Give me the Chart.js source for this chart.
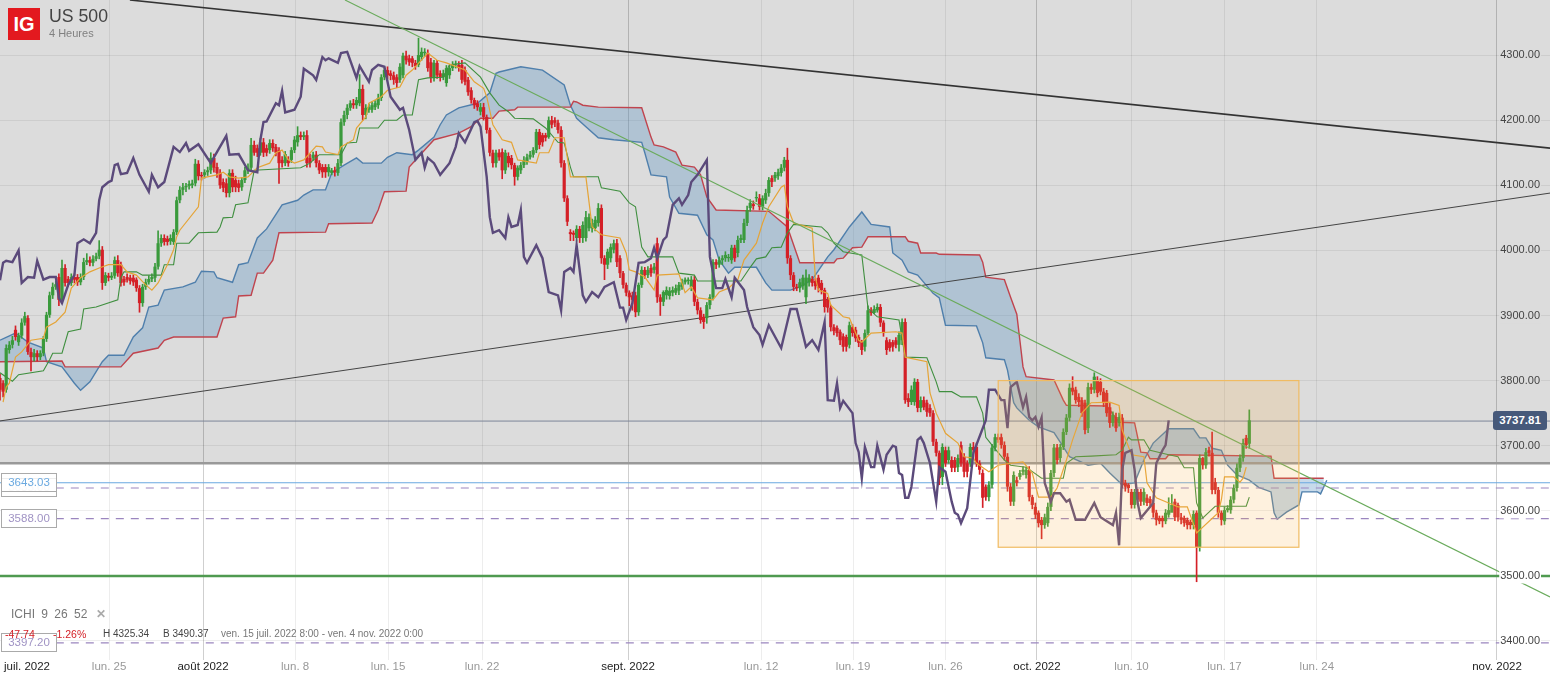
<!DOCTYPE html>
<html>
<head>
<meta charset="utf-8">
<style>
  body { margin: 0; background: #fff; font-family: "Liberation Sans", Arial, sans-serif; }
  #wrap { position: relative; width: 1550px; height: 677px; overflow: hidden; }
  canvas { position: absolute; left: 0; top: 0; }
  .t { position: absolute; white-space: nowrap; }
  .tag { position: absolute; left: 1px; width: 54px; height: 17px; line-height: 17px; border: 1px solid #aaa; background: #fff; text-align: center; font-size: 11.5px; color: #a093c4; }
</style>
</head>
<body>
<div id="wrap">
  <canvas id="c" width="1550" height="677"></canvas>
  <div class="t" style="left:8px;top:8px;width:32px;height:32px;line-height:32px;background:#e3191f;color:#fff;font-weight:bold;font-size:20px;text-align:center">IG</div>
  <div class="t" style="left:49px;top:6px;font-size:17.7px;color:#444">US 500</div>
  <div class="t" style="left:49px;top:27px;font-size:11px;color:#808080">4 Heures</div>
  <div class="tag" style="top:478px;color:#ddd">3635.00</div>
  <div class="tag" style="top:473px;color:#6aa9e0;background:rgba(255,255,255,.8)">3643.03</div>
  <div class="tag" style="top:509px">3588.00</div>
  <div class="tag" style="top:633px">3397.20</div>
  <div class="t" style="left:11px;top:607px;font-size:12px;color:#777;word-spacing:3px">ICHI 9 26 52 <span style="color:#aaa;font-weight:bold;margin-left:2px">✕</span></div>
  <div class="t" style="left:5px;top:628px;font-size:10.5px;color:#d42027">-47.74</div>
  <div class="t" style="left:53px;top:628px;font-size:10.5px;color:#d42027">-1.26%</div>
  <div class="t" style="left:103px;top:628px;font-size:10px;color:#444">H 4325.34</div>
  <div class="t" style="left:163px;top:628px;font-size:10px;color:#444">B 3490.37</div>
  <div class="t" style="left:221px;top:628px;font-size:10px;color:#777">ven. 15 juil. 2022 8:00 - ven. 4 nov. 2022 0:00</div>
  <div class="t" style="left:1493px;top:411px;width:54px;height:19px;line-height:19px;background:#46597a;border-radius:3px;color:#fff;font-weight:bold;font-size:11.5px;text-align:center">3737.81</div>
</div>
<script src="https://cdn.jsdelivr.net/npm/chart.js@4"></script>
<script>
// 4h candles, one bar per slot
const opens = [
3804,3796,3786,3847,3855,3878,3859,3869,3889,3896,
3844,3836,3842,3836,3842,3864,3901,3931,3944,3959,
3924,3973,3956,3950,3959,3959,3951,3959,3982,3985,
3981,3987,3991,4001,3950,3961,3958,3961,3985,3978,
3956,3959,3958,3958,3955,3942,3919,3944,3951,3956,
3958,3975,4011,4019,4018,4014,4013,4028,4077,4093,
4097,4099,4100,4103,4133,4116,4116,4120,4123,4142,
4128,4119,4105,4103,4088,4119,4108,4103,4097,4108,
4123,4127,4162,4157,4150,4166,4157,4154,4165,4159,
4154,4139,4134,4139,4139,4154,4166,4177,4174,4177,
4142,4142,4147,4134,4128,4128,4120,4119,4123,4119,
4134,4197,4208,4219,4226,4223,4226,4248,4208,4216,
4216,4220,4223,4234,4266,4277,4272,4269,4266,4262,
4269,4299,4295,4295,4288,4285,4297,4303,4303,4289,
4265,4288,4272,4266,4257,4269,4280,4285,4285,4285,
4277,4262,4246,4231,4226,4213,4220,4205,4185,4150,
4134,4150,4151,4123,4145,4142,4131,4113,4123,4131,
4136,4143,4147,4154,4182,4177,4177,4174,4200,4200,
4196,4185,4134,4080,4028,4027,4019,4033,4019,4019,
4034,4034,4034,4042,4065,3988,3978,3988,4001,4011,
3988,3965,3947,3935,3931,3931,3905,3947,3970,3962,
3973,3970,4011,3928,3921,3931,3930,3935,3935,3938,
3944,3951,3953,3944,3955,3921,3908,3898,3896,3916,
3928,3982,3978,3985,3988,3988,3985,4004,3996,4016,
4016,4042,4065,4071,4080,4080,4067,4077,4088,4111,
4111,4114,4119,4127,4139,3988,3962,3944,3942,3945,
3928,3951,3956,3953,3958,3950,3939,3924,3912,3882,
3881,3875,3868,3867,3855,3882,3878,3867,3859,3852,
3873,3908,3904,3908,3913,3889,3862,3859,3859,3862,
3855,3862,3890,3773,3767,3767,3798,3758,3770,3766,
3758,3750,3706,3689,3652,3693,3678,3678,3678,3667,
3701,3683,3673,3673,3698,3698,3673,3658,3637,3621,
3640,3697,3713,3713,3701,3683,3637,3614,3647,3652,
3660,3655,3663,3621,3606,3597,3586,3578,3581,3606,
3658,3697,3681,3698,3721,3743,3789,3786,3775,3770,
3766,3727,3790,3786,3801,3798,3783,3781,3759,3735,
3744,3735,3743,3643,3640,3629,3609,3629,3629,3614,
3620,3618,3612,3597,3589,3589,3584,3594,3597,3614,
3609,3590,3589,3586,3583,3578,3597,3544,3681,3670,
3693,3689,3644,3632,3597,3584,3601,3601,3617,3635,
3666,3681,3712,3703];
const closes = [
3786,3783,3850,3855,3862,3867,3869,3889,3899,3844,
3836,3842,3836,3842,3864,3901,3931,3944,3948,3924,
3973,3950,3950,3959,3955,3951,3959,3982,3985,3981,
3987,3991,4001,3950,3962,3958,3961,3985,3965,3950,
3951,3955,3953,3951,3942,3919,3944,3951,3956,3959,
3975,4011,4019,4013,4013,4019,4028,4077,4093,4097,
4099,4102,4103,4133,4114,4114,4120,4123,4142,4127,
4119,4100,4096,4088,4119,4097,4097,4096,4108,4123,
4127,4162,4150,4150,4166,4150,4150,4165,4157,4150,
4134,4134,4148,4134,4154,4170,4177,4174,4177,4134,
4134,4147,4134,4123,4120,4120,4128,4123,4120,4134,
4197,4208,4219,4226,4223,4231,4248,4208,4219,4220,
4223,4226,4234,4266,4277,4269,4268,4262,4257,4282,
4299,4292,4289,4288,4283,4300,4305,4305,4280,4265,
4288,4269,4266,4272,4280,4280,4285,4286,4280,4262,
4259,4243,4231,4223,4220,4220,4205,4185,4150,4134,
4150,4143,4123,4150,4134,4131,4113,4127,4131,4139,
4143,4147,4154,4182,4162,4166,4173,4200,4193,4196,
4185,4134,4080,4044,4025,4024,4033,4019,4039,4051,
4051,4042,4047,4065,3988,3978,3998,4005,4011,3982,
3965,3947,3935,3928,3924,3905,3947,3970,3962,3970,
3965,3975,3928,3921,3936,3939,3938,3939,3942,3947,
3951,3955,3955,3955,3921,3908,3893,3890,3916,3928,
3982,3978,3985,3988,3993,3990,4004,3988,4016,4019,
4042,4062,4073,4068,4082,4067,4080,4088,4108,4105,
4116,4120,4127,4139,3988,3962,3944,3942,3951,3958,
3958,3958,3950,3945,3942,3939,3913,3912,3882,3876,
3873,3862,3852,3852,3885,3873,3865,3858,3847,3873,
3908,3904,3910,3913,3889,3873,3847,3850,3852,3855,
3870,3890,3770,3767,3786,3798,3758,3770,3759,3752,
3750,3706,3689,3650,3698,3673,3693,3666,3666,3681,
3673,3660,3660,3698,3693,3673,3663,3620,3621,3640,
3697,3713,3709,3701,3683,3637,3614,3655,3643,3658,
3663,3663,3621,3609,3594,3581,3578,3590,3606,3658,
3697,3678,3698,3721,3743,3789,3783,3770,3767,3750,
3724,3790,3786,3806,3781,3783,3766,3750,3735,3747,
3727,3744,3640,3637,3635,3609,3629,3617,3614,3629,
3612,3612,3597,3586,3584,3584,3597,3601,3609,3590,
3590,3586,3581,3578,3578,3595,3544,3681,3670,3690,
3689,3632,3632,3597,3586,3601,3604,3617,3635,3666,
3681,3704,3701,3739];
const highs = [
3810,3800,3855,3860,3868,3884,3873,3895,3905,3900,
3850,3848,3846,3846,3868,3905,3936,3950,3953,3964,
3985,3978,3960,3964,3964,3963,3964,3988,3995,3990,
3992,3996,4015,4006,3966,3965,3966,3990,3992,3982,
3960,3964,3962,3962,3958,3946,3948,3956,3961,3964,
3980,4030,4024,4024,4022,4024,4032,4082,4098,4103,
4103,4107,4108,4140,4138,4120,4124,4128,4150,4148,
4134,4124,4110,4110,4124,4124,4114,4108,4112,4128,
4133,4172,4168,4162,4172,4172,4162,4170,4170,4163,
4158,4144,4152,4144,4158,4175,4190,4182,4182,4184,
4148,4151,4152,4138,4132,4132,4132,4126,4128,4140,
4202,4214,4224,4230,4232,4235,4270,4254,4224,4225,
4228,4230,4240,4270,4282,4282,4276,4274,4270,4287,
4303,4306,4300,4298,4292,4326,4311,4310,4308,4295,
4292,4292,4276,4277,4284,4284,4290,4291,4290,4292,
4282,4266,4250,4234,4230,4226,4226,4208,4188,4154,
4154,4155,4156,4154,4150,4146,4134,4130,4135,4144,
4148,4152,4158,4186,4186,4180,4180,4205,4206,4204,
4200,4190,4138,4084,4032,4030,4038,4037,4044,4060,
4056,4048,4052,4072,4070,3992,4002,4010,4016,4017,
3992,3968,3950,3938,3936,3936,3950,3975,3974,3975,
3978,3980,4019,3932,3938,3944,3943,3944,3947,3951,
3956,3958,3958,3960,3960,3925,3912,3902,3920,3932,
3986,3986,3990,3992,3998,3994,4008,4008,4022,4024,
4048,4068,4078,4076,4090,4086,4084,4094,4112,4115,
4120,4125,4132,4143,4157,3992,3966,3948,3956,3962,
3970,3963,3960,3957,3962,3954,3942,3928,3916,3886,
3884,3878,3872,3870,3890,3886,3882,3870,3862,3878,
3915,3912,3915,3918,3917,3892,3866,3863,3862,3866,
3875,3895,3895,3780,3792,3803,3802,3775,3775,3770,
3763,3754,3710,3692,3703,3698,3698,3683,3682,3686,
3706,3688,3677,3703,3705,3704,3677,3663,3640,3645,
3702,3718,3718,3718,3706,3688,3642,3660,3652,3662,
3668,3667,3668,3624,3612,3600,3590,3595,3612,3662,
3702,3702,3702,3726,3748,3795,3806,3790,3780,3774,
3770,3796,3795,3812,3806,3803,3788,3785,3765,3752,
3750,3750,3748,3647,3642,3633,3633,3633,3633,3634,
3625,3622,3616,3601,3592,3592,3602,3620,3625,3618,
3612,3596,3592,3589,3586,3600,3600,3686,3682,3696,
3698,3721,3650,3636,3600,3606,3608,3622,3640,3672,
3686,3710,3716,3755];
const lows = [
3770,3775,3782,3842,3850,3862,3854,3865,3885,3840,
3815,3830,3830,3832,3838,3860,3897,3926,3940,3915,
3918,3945,3945,3946,3950,3946,3947,3955,3978,3976,
3976,3984,3987,3940,3946,3953,3955,3957,3960,3945,
3946,3951,3948,3946,3937,3905,3914,3940,3948,3952,
3952,3971,4006,4008,4008,4009,4009,4024,4073,4085,
4090,4094,4096,4099,4108,4108,4111,4115,4118,4120,
4112,4095,4090,4082,4082,4090,4090,4090,4092,4104,
4118,4122,4146,4144,4146,4144,4145,4149,4152,4145,
4103,4128,4130,4129,4135,4150,4160,4170,4170,4128,
4128,4138,4128,4118,4112,4112,4114,4116,4114,4115,
4130,4192,4202,4215,4218,4218,4222,4200,4202,4212,
4212,4216,4218,4230,4262,4264,4262,4255,4250,4258,
4265,4286,4284,4282,4278,4282,4292,4298,4275,4258,
4260,4264,4260,4262,4252,4264,4276,4280,4275,4257,
4254,4238,4226,4218,4215,4208,4200,4180,4145,4128,
4128,4138,4110,4118,4128,4125,4100,4108,4118,4127,
4132,4140,4143,4150,4156,4160,4168,4172,4188,4190,
4180,4128,4075,4038,4015,4015,4014,4012,4012,4014,
4030,4028,4030,4037,3980,3955,3972,3982,3996,3975,
3958,3942,3930,3915,3908,3898,3900,3943,3957,3958,
3960,3965,3920,3900,3915,3925,3925,3930,3932,3932,
3940,3948,3948,3938,3915,3902,3888,3880,3888,3910,
3924,3972,3974,3978,3983,3983,3980,3983,3990,4012,
4012,4038,4060,4063,4075,4062,4062,4072,4083,4098,
4106,4109,4114,4122,3980,3955,3938,3938,3936,3940,
3918,3945,3945,3940,3936,3933,3905,3905,3876,3870,
3868,3855,3845,3845,3850,3868,3860,3852,3840,3845,
3870,3900,3903,3905,3883,3868,3840,3845,3845,3850,
3845,3855,3765,3760,3763,3762,3752,3752,3755,3745,
3745,3700,3684,3640,3640,3668,3673,3660,3660,3660,
3668,3652,3652,3668,3688,3668,3656,3605,3616,3615,
3635,3692,3705,3696,3678,3630,3608,3608,3638,3648,
3655,3650,3615,3603,3588,3575,3557,3573,3576,3600,
3652,3672,3675,3694,3717,3738,3778,3765,3760,3745,
3718,3720,3780,3781,3775,3778,3760,3745,3728,3730,
3722,3730,3635,3630,3628,3604,3604,3610,3608,3609,
3608,3606,3590,3578,3580,3575,3580,3590,3605,3585,
3584,3580,3576,3572,3572,3572,3491,3538,3664,3665,
3684,3626,3626,3590,3578,3579,3598,3596,3612,3630,
3660,3676,3696,3696];

// ichimoku lines: bar number and price at each bend
const tenkanBars = [1,2,3,5,7,10,14,15,18,21,23,26,29,32,35,39,41,44,47,49,51,54,56,57,58,64,65,70,72,74,77,80,83,87,89,91,93,95,98,102,104,105,109,110,114,115,118,119,123,125,129,131,133,138,141,144,150,153,156,157,159,162,165,167,173,174,177,179,182,184,189,191,194,200,202,203,205,208,211,212,219,221,223,225,230,232,235,238,240,244,246,248,252,253,254,256,262,263,264,267,268,272,274,277,278,281,289,291,292,299,300,302,305,309,311,314,315,319,322,326,330,333,335,339,341,344,346,349,352,358,361,362,365,369,370,373,377,380,383,386,393,394,395,398,400,401,402];
const tenkanPrices = [3767,3790,3796,3836,3844,3862,3865,3882,3890,3905,3942,3958,3967,3973,3978,3978,3967,3962,3947,3939,3950,3978,4001,4021,4031,4067,4111,4116,4120,4113,4111,4113,4127,4134,4150,4154,4139,4134,4139,4160,4159,4151,4147,4159,4170,4188,4205,4226,4236,4246,4251,4269,4277,4303,4292,4288,4277,4259,4249,4236,4193,4170,4166,4139,4134,4150,4150,4173,4173,4113,4113,4036,4024,4019,3996,3970,3967,3959,3939,3962,3964,3935,3944,3927,3924,3936,3942,3955,3985,4011,4042,4067,4097,4100,4067,4042,4034,3959,3939,3934,3916,3898,3896,3862,3859,3873,3875,3873,3836,3829,3781,3750,3719,3704,3683,3681,3673,3660,3670,3673,3675,3658,3621,3621,3635,3678,3709,3750,3766,3767,3762,3724,3686,3683,3643,3620,3612,3606,3606,3566,3597,3617,3652,3652,3644,3650,3667];
const kijunBars = [0,4,6,14,16,17,20,22,26,27,31,38,39,40,44,46,52,53,56,57,61,64,70,71,72,75,76,80,82,97,100,103,110,112,115,116,122,124,128,130,133,135,138,143,145,150,155,158,161,164,166,172,176,180,182,184,185,193,194,200,203,205,207,209,217,219,224,225,239,242,244,247,249,252,254,256,265,267,269,272,278,280,283,290,292,299,302,303,307,310,315,317,318,320,324,326,331,336,343,344,347,352,360,362,364,365,369,371,377,380,382,385,386,388,390,392,402,403];
const kijunPrices = [3812,3799,3809,3815,3832,3842,3842,3875,3879,3910,3913,3924,3958,3967,3967,3962,3962,3978,3978,4011,4011,4027,4028,4036,4050,4051,4070,4073,4123,4127,4134,4147,4147,4165,4166,4188,4188,4200,4200,4208,4208,4262,4265,4266,4285,4288,4266,4242,4223,4213,4203,4202,4188,4166,4165,4128,4113,4113,4096,4091,4073,4067,4005,3990,3990,3965,3962,3953,3953,3974,3987,3990,4004,4005,4027,4040,4036,4027,4011,3998,3993,3911,3898,3893,3836,3835,3798,3783,3783,3775,3775,3750,3713,3701,3678,3670,3667,3650,3650,3673,3683,3684,3686,3693,3713,3709,3709,3693,3686,3683,3666,3666,3612,3589,3598,3607,3607,3621];
const senkouABars = [0,5,9,14,15,20,24,26,29,33,35,40,43,46,48,51,53,59,63,65,69,70,75,77,80,83,86,91,96,98,101,105,107,111,115,117,123,125,128,133,135,140,142,144,148,154,158,160,161,168,175,182,184,186,189,193,198,207,208,210,215,216,219,225,228,230,232,235,237,244,247,249,255,258,262,267,269,274,278,281,287,288,291,293,296,301,303,305,315,317,318,324,325,327,328,332,335,340,343,345,351,355,358,362,366,369,372,377,385,387,389,391,394,396,399,403,406,410,411,412,415,419,420,425,426,428];
const senkouAPrices = [3862,3873,3859,3850,3829,3821,3796,3785,3798,3829,3839,3839,3867,3881,3913,3916,3939,3944,3951,3968,3967,3958,3951,3978,3981,4019,4033,4070,4077,4085,4093,4093,4119,4131,4142,4134,4134,4143,4150,4147,4154,4174,4193,4208,4219,4226,4242,4272,4274,4282,4277,4254,4223,4203,4190,4173,4170,4166,4150,4116,4113,4082,4057,4054,4024,4016,3985,3965,3974,3974,3950,3939,3939,3944,3955,3990,4001,4036,4059,4040,4036,3996,3985,3967,3962,3934,3927,3885,3884,3858,3835,3832,3816,3766,3758,3739,3729,3720,3698,3683,3670,3673,3658,3640,3643,3678,3704,3726,3726,3712,3712,3696,3693,3670,3655,3647,3636,3629,3597,3587,3598,3609,3629,3629,3626,3647];
const senkouBBars = [0,20,21,39,43,51,53,56,70,72,76,77,81,83,85,88,90,105,106,120,122,124,131,132,140,148,152,155,159,161,166,167,184,185,186,188,193,207,210,211,214,218,220,224,226,228,231,248,254,258,269,270,272,275,278,280,292,293,296,297,302,303,316,317,318,324,326,328,330,331,340,343,344,357,361,366,368,370,371,376,377,410,411,427];
const senkouBPrices = [3829,3830,3821,3821,3842,3850,3862,3867,3867,3896,3898,3930,3931,3965,3965,3985,4027,4028,4041,4042,4062,4090,4091,4128,4170,4180,4190,4203,4203,4214,4216,4220,4220,4229,4228,4223,4220,4219,4174,4162,4159,4151,4131,4128,4116,4082,4062,4060,4036,3981,3981,3987,3988,4004,4005,4021,4021,4014,4011,3996,3996,3994,3993,3982,3959,3955,3928,3902,3821,3806,3801,3770,3762,3761,3736,3735,3690,3689,3680,3680,3686,3684,3650,3650];
const chikouBars = [0,1,2,4,6,7,9,11,12,14,16,18,19,20,22,24,25,27,29,31,32,33,35,36,37,38,39,41,43,45,48,49,51,53,56,58,60,61,64,68,69,73,74,77,80,83,84,85,86,89,90,91,92,95,97,98,101,102,104,105,106,109,110,112,115,116,119,120,122,124,126,129,130,132,134,136,137,138,140,142,145,147,148,150,153,154,155,157,158,159,161,163,164,165,167,168,169,170,173,175,177,180,181,182,184,185,186,188,189,191,193,195,198,200,201,202,204,206,208,210,211,212,214,215,217,219,220,222,223,225,228,229,231,233,234,236,237,240,241,243,245,246,248,252,255,257,260,262,264,266,267,269,270,271,272,275,276,277,278,279,281,282,283,285,286,288,289,290,291,292,293,294,296,297,298,300,302,303,305,307,308,309,310,312,314,318,319,321,323,324,325,326,328,330,331,332,333,334,335,336,337,339,340,342,344,345,347,350,353,355,359,360,361,362,363,365,366,367,368,372,373,375,376,377];
const chikouPrices = [3954,3981,3984,3982,4000,3950,3959,3958,3984,3955,3959,3959,3927,3919,3947,3962,4011,4017,4011,4027,4077,4097,4105,4107,4131,4133,4117,4119,4142,4116,4090,4116,4097,4105,4159,4151,4165,4153,4163,4134,4143,4176,4147,4148,4123,4120,4170,4197,4198,4226,4223,4245,4212,4216,4236,4279,4269,4262,4297,4292,4295,4288,4303,4305,4265,4283,4259,4277,4285,4282,4236,4216,4219,4185,4139,4150,4127,4142,4134,4116,4134,4159,4180,4166,4197,4199,4190,4113,4051,4027,4031,4019,4051,4036,4039,4062,3990,3981,4008,3988,3936,3931,3908,3967,3973,3967,4008,3931,3921,3936,3928,3944,3951,3912,3912,3893,3919,3981,3982,3988,4004,3988,4016,4021,4070,4080,4070,4085,4105,4116,4139,3990,3942,3942,3956,3928,3958,3939,3913,3882,3870,3855,3885,3850,3910,3910,3852,3862,3847,3890,3770,3769,3796,3758,3769,3750,3704,3690,3650,3698,3667,3667,3700,3663,3686,3700,3698,3658,3655,3620,3620,3637,3709,3713,3704,3673,3614,3667,3660,3614,3597,3594,3581,3604,3689,3739,3786,3786,3770,3770,3727,3790,3798,3759,3775,3744,3739,3744,3729,3743,3643,3614,3627,3627,3614,3617,3586,3586,3612,3590,3578,3597,3547,3663,3689,3693,3663,3612,3589,3612,3673,3693,3701,3739];

// chart furniture
const yTicks = [3400,3500,3600,3700,3800,3900,4000,4100,4200,4300];
const xTickBars = [8.7,35.2,65.5,95.2,125.2,155.5,202.6,245.5,275.2,305,334.5,365,395,424.8,482.9];
const xTickLabels = ['juil. 2022','lun. 25','août 2022','lun. 8','lun. 15','lun. 22','sept. 2022','lun. 12','lun. 19','lun. 26','oct. 2022','lun. 10','lun. 17','lun. 24','nov. 2022'];
const greyFloor = 3673;
const boxBars = [322,419];
const boxPrices = [3544,3800];

function pts(xs, ys) { return xs.map((x, i) => ({ x: x, y: ys[i] })); }
const all = opens.map((o, i) => i);

function lineSet(xs, ys, color, width, order, extra) {
  return Object.assign({
    type: 'line', data: pts(xs, ys), borderColor: color, borderWidth: width,
    pointRadius: 0, tension: 0, fill: false, order: order
  }, extra || {});
}
function level(price, color, width, dash, fromBar) {
  return lineSet([fromBar || 0, 500], [price, price], color, width, 5, { borderDash: dash || [] });
}

const cloud = 'rgba(94,149,194,0.35)';
const GREEN = '#3a9a3c', RED = '#d42027';
const candleColor = all.map(i => closes[i] >= opens[i] ? GREEN : RED);

const datasets = [
  // index 0 and 1 are the cloud edges
  lineSet(senkouABars, senkouAPrices, '#4f7fac', 1.4, 9, { fill: { target: 1, above: cloud, below: cloud } }),
  lineSet(senkouBBars, senkouBPrices, '#c0444e', 1.4, 8),
  level(greyFloor, '#999999', 2.5),
  level(3737.81, '#7c8698', 1),
  level(3643.03, '#6aa9e0', 1.2),
  level(3635, '#9b86bf', 1.2, [8, 7], 18),
  level(3588, '#9b86bf', 1.2, [8, 7], 18),
  level(3397.2, '#9b86bf', 1.2, [8, 7], 18),
  level(3500, '#4f9a50', 2.5),
  lineSet([41.9, 500], [4384.6, 4157], '#333333', 1.6, 4),
  lineSet([0, 500], [3738, 4088], '#444444', 1, 4),
  { type: 'bar', data: all.map(i => ({ x: i, y: [lows[i], highs[i]] })), backgroundColor: candleColor, barThickness: 1, grouped: false, order: 3 },
  { type: 'bar', data: all.map(i => ({ x: i, y: [opens[i], closes[i]] })), backgroundColor: candleColor, barThickness: 3.2, inflateAmount: 0, grouped: false, order: 2 },
  lineSet(kijunBars, kijunPrices, '#3f8f3f', 1.1, 1.5),
  lineSet(tenkanBars, tenkanPrices, '#e5a437', 1.2, 1.4),
  lineSet([111.3, 500], [4384.6, 3467.6], '#6aab5c', 1.1, 1.3),
  lineSet(chikouBars, chikouPrices, '#5b4a7b', 2.4, 1)
];

// grey zone behind the chart, orange box in front of it
const backdrop = {
  id: 'backdrop',
  beforeDraw(chart) {
    const { ctx, chartArea: a, scales: { y } } = chart;
    ctx.save();
    ctx.fillStyle = '#fff';
    ctx.fillRect(0, 0, chart.width, chart.height);
    ctx.fillStyle = '#dcdcdc';
    ctx.fillRect(a.left, a.top, a.width, y.getPixelForValue(greyFloor) - a.top);
    ctx.restore();
  },
  afterDatasetsDraw(chart) {
    const { ctx, scales: { x, y } } = chart;
    const l = x.getPixelForValue(boxBars[0]), r = x.getPixelForValue(boxBars[1]);
    const t = y.getPixelForValue(boxPrices[1]), b = y.getPixelForValue(boxPrices[0]);
    ctx.save();
    ctx.fillStyle = 'rgba(247,180,70,0.18)';
    ctx.fillRect(l, t, r - l, b - t);
    ctx.strokeStyle = '#f0bb62';
    ctx.lineWidth = 1.2;
    ctx.strokeRect(l, t, r - l, b - t);
    ctx.restore();
  }
};

new Chart(document.getElementById('c'), {
  type: 'bar',
  data: { datasets: datasets },
  plugins: [backdrop],
  options: {
    responsive: false,
    animation: false,
    layout: { padding: 0 },
    plugins: { legend: { display: false }, tooltip: { enabled: false } },
    scales: {
      x: {
        type: 'linear', min: 0, max: 500, offset: false,
        afterFit(s) { s.height = 17; s.paddingLeft = 0; s.paddingRight = 0; },
        afterBuildTicks(s) { s.ticks = xTickBars.map(v => ({ value: v })); },
        border: { display: false },
        grid: {
          offset: false, drawTicks: false,
          color(c) {
            const i = xTickBars.indexOf(c.tick && c.tick.value);
            if (i === 0) return 'rgba(0,0,0,0)';
            return /20/.test(xTickLabels[i]) ? 'rgba(0,0,0,0.19)' : 'rgba(0,0,0,0.07)';
          }
        },
        ticks: {
          autoSkip: false, maxRotation: 0, padding: 0,
          font: { family: 'Liberation Sans', size: 11.5 },
          color(c) { return /20/.test(xTickLabels[xTickBars.indexOf(c.tick.value)]) ? '#222' : '#999'; },
          callback(v) { return xTickLabels[xTickBars.indexOf(v)]; }
        }
      },
      y: {
        type: 'linear', position: 'right', min: 3370.8, max: 4384.6,
        afterFit(s) { s.width = 0; s.paddingTop = 0; s.paddingBottom = 0; },
        afterBuildTicks(s) { s.ticks = yTicks.map(v => ({ value: v })); },
        border: { display: false },
        grid: { drawTicks: false, color: 'rgba(0,0,0,0.065)' },
        ticks: {
          mirror: true, padding: -10, z: 1,
          font: { family: 'Liberation Sans', size: 11 },
          color: '#444',
          showLabelBackdrop: true,
          backdropPadding: 1,
          backdropColor(c) { return c.tick.value > greyFloor ? '#dcdcdc' : '#fff'; },
          callback(v) { return v.toFixed(2); }
        }
      }
    }
  }
});
</script>
</body>
</html>
